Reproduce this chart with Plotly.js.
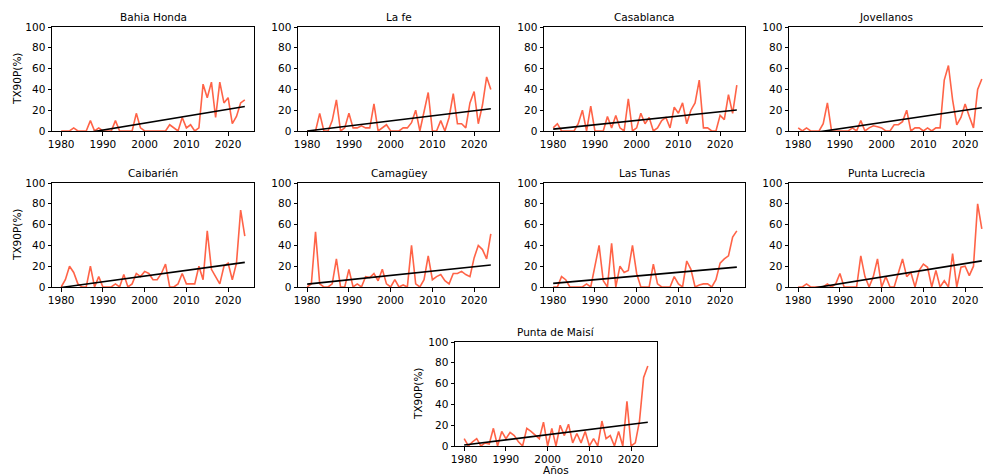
<!DOCTYPE html>
<html>
<head>
<meta charset="utf-8">
<script src="https://cdn.plot.ly/plotly-3.0.1.min.js"></script>
<style>html,body{margin:0;padding:0;background:#fff;}#chart{width:983px;height:475px;}</style>
</head>
<body>
<div id="chart"></div>
<script>
// ---- DATA (TX90P %, 1980-2024) ----
const years = Array.from({length: 45}, (_, i) => 1980 + i);
const stations = ["Bahia Honda", "La fe", "Casablanca", "Jovellanos", "Caibarién", "Camagüey", "Las Tunas", "Punta Lucrecia", "Punta de Maisí"];
const bahiaHonda   = [0,0,0,3,0,0,0,10,0,3,0,0,0,10,0,0,0,0,17,3,0,0,0,0,0,0,6,3,0,13,3,6,0,3,45,32,47,13,47,27,32,7,14,27,30];
const laFe         = [0,0,0,17,0,0,10,30,0,3,17,3,3,5,3,3,26,0,3,6,0,0,0,3,3,8,20,0,17,37,0,0,10,0,13,36,7,7,3,27,38,7,25,52,40];
const casablanca   = [3,7,0,0,0,0,7,20,0,24,0,0,0,14,3,15,3,0,31,0,3,17,7,13,0,3,10,13,3,23,17,27,7,20,27,49,3,3,0,0,15,11,35,17,44];
const jovellanos   = [3,0,3,0,0,0,7,27,0,0,0,0,0,3,0,10,0,3,5,4,3,0,0,6,6,9,20,0,3,3,0,3,0,3,3,49,63,30,6,13,26,14,3,40,50];
const caibarien    = [0,7,20,14,3,0,0,20,0,10,0,0,0,3,0,12,0,3,13,10,15,13,7,7,13,22,0,0,3,13,3,3,3,20,7,54,17,10,3,20,23,7,23,74,49];
const camaguey     = [0,3,53,3,0,0,3,27,0,0,17,0,3,0,10,9,13,6,17,3,0,7,0,2,0,40,3,0,7,30,7,10,12,6,3,13,13,15,12,10,28,40,36,27,51];
const lasTunas     = [0,0,10,7,0,0,0,0,3,0,20,40,6,0,42,0,20,14,16,40,13,0,0,0,22,3,0,0,0,10,3,0,25,17,0,2,3,3,0,7,23,27,30,48,54];
const puntaLucrecia= [0,0,3,0,0,0,0,3,0,3,13,0,0,0,0,30,10,0,10,27,0,10,0,0,13,27,10,14,0,16,22,19,0,16,0,6,0,32,0,19,20,11,20,80,56];
const puntaMaisi   = [7,0,4,7,0,3,2,17,0,14,7,13,10,4,0,17,14,10,7,23,0,17,0,20,10,21,3,12,3,14,0,7,0,24,7,10,0,14,0,43,0,3,24,66,77];
const series = [bahiaHonda, laFe, casablanca, jovellanos, caibarien, camaguey, lasTunas, puntaLucrecia, puntaMaisi];
const yTicks = [0, 20, 40, 60, 80, 100];
const xTicks = [1980, 1990, 2000, 2010, 2020];
const yLabel = "TX90P(%)";
const xLabel = "Años";

// ---- LAYOUT (pixel boxes: left, right, top, bottom) ----
const W = 983, H = 475;
const boxes = [
  [52, 254, 27, 131], [298, 499, 27, 131], [544, 745, 27, 131], [789, 983, 27, 131],
  [52, 254, 183, 287], [298, 499, 183, 287], [544, 745, 183, 287], [789, 983, 183, 287],
  [455, 657, 342, 446]
];
const PX_PER_YEAR = 202 / 48.4;
const X0 = 1977.8;

function linreg(xs, ys) {
  const n = xs.length;
  let sx = 0, sy = 0, sxx = 0, sxy = 0;
  for (let i = 0; i < n; i++) { sx += xs[i]; sy += ys[i]; sxx += xs[i]*xs[i]; sxy += xs[i]*ys[i]; }
  const b = (n*sxy - sx*sy) / (n*sxx - sx*sx);
  const a = (sy - b*sx) / n;
  return xs.map(x => a + b*x);
}

const font = {family: "DejaVu Sans, sans-serif", size: 10.5, color: "#000"};
const traces = [];
const layout = {
  width: W, height: H,
  margin: {l: 0, r: 0, t: 0, b: 0},
  paper_bgcolor: "#fff", plot_bgcolor: "#fff",
  showlegend: false,
  font: font,
  annotations: []
};

series.forEach((vals, i) => {
  const k = i === 0 ? "" : String(i + 1);
  const [l, r, t, b] = boxes[i];
  const xa = "x" + k, ya = "y" + k;
  traces.push({x: years, y: vals, xaxis: xa, yaxis: ya, mode: "lines",
    line: {color: "#ff6347", width: 1.6}, hoverinfo: "skip"});
  const tr = linreg(years, vals);
  traces.push({x: [years[0], years[years.length-1]], y: [tr[0], tr[tr.length-1]], xaxis: xa, yaxis: ya,
    mode: "lines", line: {color: "#000", width: 1.6}, hoverinfo: "skip"});
  const cut = r >= W;
  layout["xaxis" + k] = {
    domain: [l / W, r / W], anchor: ya,
    range: [X0, X0 + (r - l) / PX_PER_YEAR],
    tickvals: xTicks, ticks: "outside", ticklen: 3.5, tickwidth: 1, tickcolor: "#000",
    showline: true, linecolor: "#000", linewidth: 1, mirror: true,
    showgrid: false, zeroline: false, tickfont: font
  };
  layout["yaxis" + k] = {
    domain: [1 - b / H, 1 - t / H], anchor: xa,
    range: [0, 100],
    tickvals: yTicks, ticks: "outside", ticklen: 3.5, tickwidth: 1, tickcolor: "#000",
    showline: true, linecolor: "#000", linewidth: 1, mirror: !cut,
    showgrid: false, zeroline: false, tickfont: font
  };
  layout.annotations.push({text: stations[i], xref: "paper", yref: "paper",
    x: (l + Math.min(r, l + 202)) / 2 / W, y: 1 - (t - 10) / H, xanchor: "center", yanchor: "middle",
    showarrow: false, font: font});
  if (i === 0 || i === 4 || i === 8) {
    const xc = i === 8 ? 418 : 17;
    layout.annotations.push({text: yLabel, xref: "paper", yref: "paper", textangle: -90,
      x: xc / W, y: 1 - (t + b) / 2 / H, xanchor: "center", yanchor: "middle",
      showarrow: false, font: font});
  }
  if (i === 8) {
    layout.annotations.push({text: xLabel, xref: "paper", yref: "paper",
      x: (l + r) / 2 / W, y: 1 - 470 / H, xanchor: "center", yanchor: "middle",
      showarrow: false, font: font});
  }
});

Plotly.newPlot("chart", traces, layout, {staticPlot: true, displayModeBar: false});
</script>
</body>
</html>
